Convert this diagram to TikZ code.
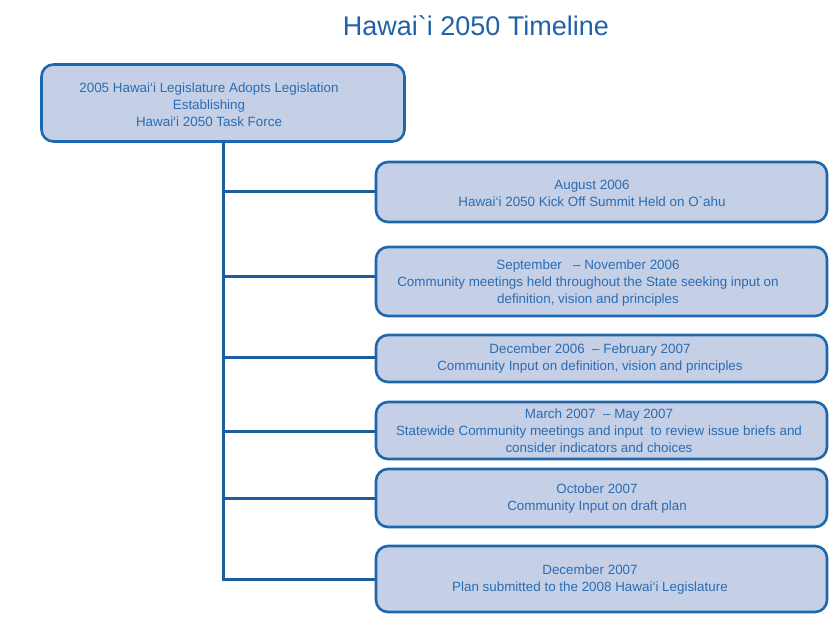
\documentclass[tikz,border=0pt]{standalone}
\usepackage{fontspec}
\setmainfont{Liberation Sans}
\definecolor{boxfill}{HTML}{C5CFE6}
\definecolor{boxline}{HTML}{1D67AD}
\definecolor{txtblue}{HTML}{2A6DB3}
\definecolor{linkblue}{HTML}{1A5E9F}
\definecolor{titleblue}{HTML}{2062A8}
\begin{document}
\begin{tikzpicture}[x=1bp,y=-1bp,
  tbox/.style={draw=boxline, line width=2.6bp, fill=boxfill, rounded corners=12bp, inner sep=0pt},
  txt/.style={text=txtblue, align=center, font=\fontsize{13.4bp}{17bp}\selectfont, inner sep=0pt},
  link/.style={draw=linkblue, line width=3bp}]
\useasboundingbox[fill=white] (0,0) rectangle (832,630);
\node[text=titleblue, font=\fontsize{27bp}{30bp}\selectfont, inner sep=0pt] (title) at (476,26) {Hawai\textasciigrave i 2050 Timeline};
% top box
\node[tbox, minimum width=363bp, minimum height=77bp] (b1) at (223,103) {};
\node[txt] (t1) at (209,105) {2005 Hawai‘i Legislature Adopts Legislation\\Establishing\\Hawai‘i 2050 Task Force};
% right boxes
\node[tbox, minimum width=451bp, minimum height=60bp] (b2) at (601.5,192) {};
\node[txt] (t2) at (592,193) {August 2006\\Hawai‘i 2050 Kick Off Summit Held on O\textasciigrave ahu};
\node[tbox, minimum width=451bp, minimum height=69bp] (b3) at (601.5,281.5) {};
\node[txt] (t3) at (588,283) {September \ \ – November 2006\\Community meetings held throughout the State seeking input on\\definition, vision and principles};
\node[tbox, minimum width=451bp, minimum height=47bp] (b4) at (601.5,358.5) {};
\node[txt] (t4) at (590,359) {December 2006 \ – February 2007\\Community Input on definition, vision and principles};
\node[tbox, minimum width=451bp, minimum height=57bp] (b5) at (601.5,430.5) {};
\node[txt] (t5) at (599,431) {March 2007 \ – May 2007\\Statewide Community meetings and input \ to review issue briefs and\\consider indicators and choices};
\node[tbox, minimum width=451bp, minimum height=58bp] (b6) at (601.5,498) {};
\node[txt] (t6) at (597,499) {October 2007\\Community Input on draft plan};
\node[tbox, minimum width=451bp, minimum height=66bp] (b7) at (601.5,579) {};
\node[txt] (t7) at (590,580) {December 2007\\Plan submitted to the 2008 Hawai‘i Legislature};
% connectors
\coordinate (spine) at (223,579);
\draw[link] (b1.south -| spine) -- (spine) -- (b7.west);
\foreach \b/\y in {b2/192,b3/276,b4/357,b5/431,b6/498}{
  \draw[link] (223,\y) -- (\b.west |- 0,\y);
}
\end{tikzpicture}
\end{document}
